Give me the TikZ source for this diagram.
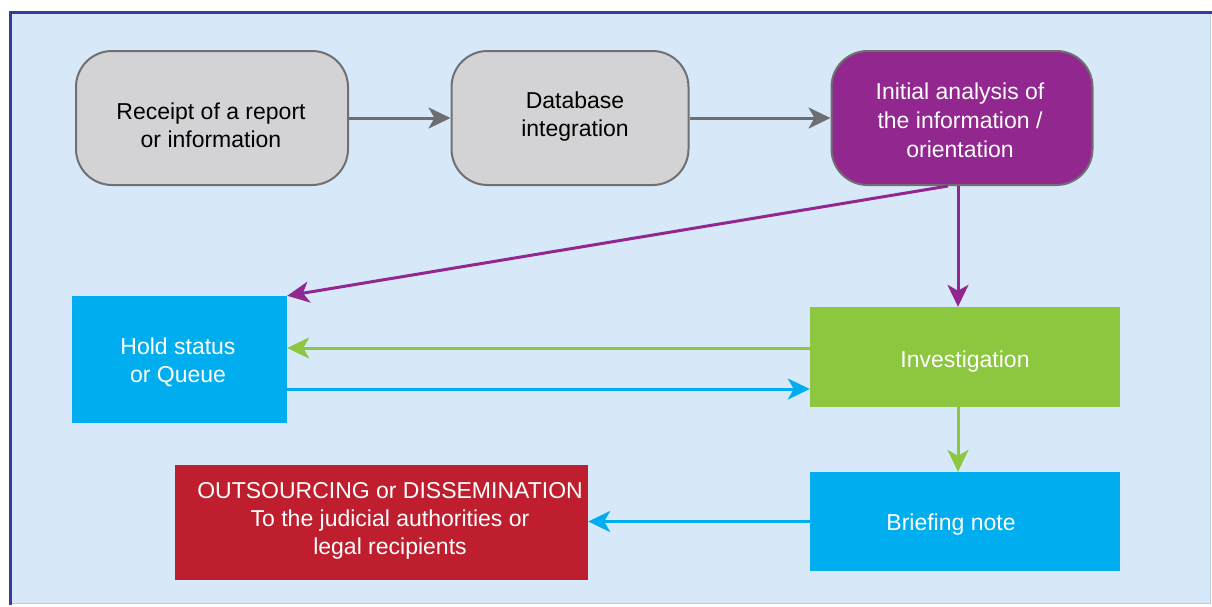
\documentclass[tikz,border=0pt]{standalone}
\usepackage{fontspec}
\setmainfont{Liberation Sans}
\usetikzlibrary{arrows.meta}
\definecolor{bgblue}{HTML}{D7E9F8}
\definecolor{framedark}{HTML}{3A3A9A}
\definecolor{framelight}{HTML}{B8CCE0}
\definecolor{boxgray}{HTML}{D3D3D5}
\definecolor{edgegray}{HTML}{707072}
\definecolor{arrgray}{HTML}{6D6E71}
\definecolor{purp}{HTML}{92278F}
\definecolor{cyanb}{HTML}{00AEEF}
\definecolor{greenb}{HTML}{8DC63F}
\definecolor{redb}{HTML}{BE1E2D}
\tikzset{
  roundbox/.style={draw=edgegray, line width=2pt, rounded corners=36pt, align=center,
    font=\fontsize{23}{28}\selectfont, inner sep=0pt},
  flatbox/.style={draw=none, align=center, text=white,
    font=\fontsize{23}{28}\selectfont, inner sep=0pt},
  boxtext/.style={align=center, font=\fontsize{23}{28}\selectfont, inner sep=0pt},
  conn/.style={line width=3pt, -{Stealth[length=22pt,width=21pt,inset=6pt]}},
}
\begin{document}
\begin{tikzpicture}[x=1pt,y=-1pt]
\useasboundingbox (0,0) rectangle (1212,606);
\fill[white] (0,0) rectangle (1212,606);
\fill[bgblue] (10,12) rectangle (1211,604);
\draw[framelight, line width=1.5pt] (1210.5,12) -- (1210.5,603.5) -- (10,603.5);
\draw[framedark, line width=3pt] (10.5,605) -- (10.5,12) -- (1212,12);

\node[roundbox, fill=boxgray, minimum width=272pt, minimum height=134pt] (rec) at (212,118) {};
\node[boxtext] (rect) at (211,125) {Receipt of a report\\or information};
\node[roundbox, fill=boxgray, minimum width=237pt, minimum height=134pt] (db) at (570,118) {};
\node[boxtext] (dbt) at (575,117) {Database\\integration};
\node[roundbox, fill=purp, minimum width=261pt, minimum height=134pt] (init) at (962,118) {};
\node[boxtext, text=white, font=\fontsize{23}{29}\selectfont] (initt) at (960,120) {Initial analysis of\\the information /\\orientation};

\node[flatbox, fill=cyanb, minimum width=215pt, minimum height=127pt] (hold) at (179.5,359.5) {};
\node[flatbox] (holdt) at (178,362) {Hold status\\or Queue};
\node[flatbox, fill=greenb, minimum width=310pt, minimum height=100pt] (inv) at (965,357) {};
\node[flatbox] (invt) at (965,362) {Investigation};
\node[flatbox, fill=cyanb, minimum width=310pt, minimum height=99pt] (brief) at (965,521.5) {};
\node[flatbox] (brieft) at (951,525) {Briefing note};
\node[flatbox, fill=redb, minimum width=413pt, minimum height=115pt] (out) at (381.5,522.5) {};
\node[flatbox] (outt) at (390,521) {OUTSOURCING or DISSEMINATION\\To the judicial authorities or\\legal recipients};

\draw[conn, arrgray] (rec) -- (db);
\draw[conn, arrgray] (db) -- (init);
\draw[conn, purp] ([xshift=-4pt]init.south) -- ([xshift=-7pt]inv.north);
\draw[conn, purp] ([xshift=-14pt]init.south) -- (hold.north east);
\draw[conn, greenb] ([yshift=9pt]inv.west) -- ([yshift=9pt]inv.west -| hold.east);
\draw[conn, cyanb] ([yshift=-32pt]inv.west -| hold.east) -- ([yshift=-32pt]inv.west);
\draw[conn, greenb] ([xshift=-7pt]inv.south) -- ([xshift=-7pt]brief.north);
\draw[conn, cyanb] (brief.west) -- (brief.west -| out.east);
\end{tikzpicture}
\end{document}
